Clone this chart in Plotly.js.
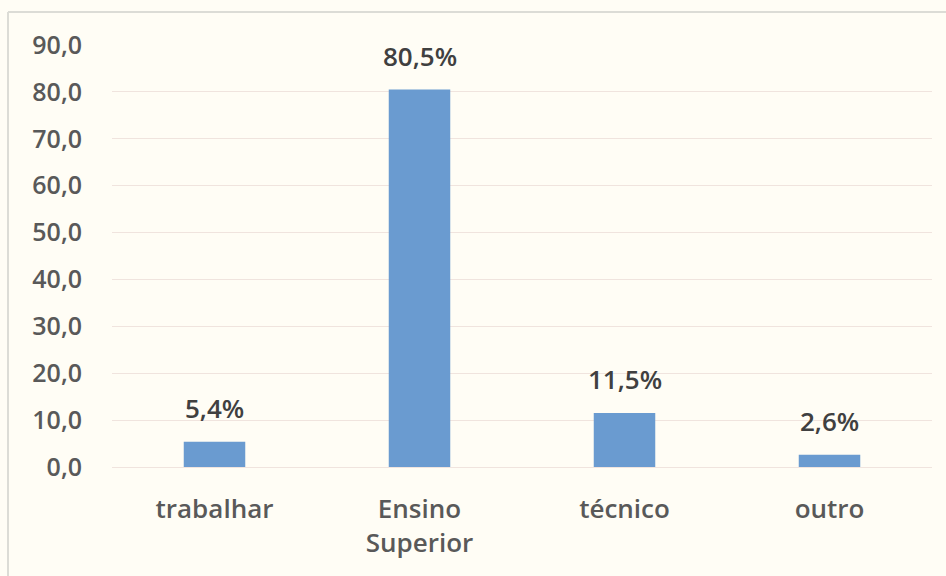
<!DOCTYPE html>
<html>
<head>
<meta charset="utf-8">
<script src="https://cdn.plot.ly/plotly-3.0.1.min.js"></script>
<style>
html,body{margin:0;padding:0;background:#fffdf5;}
#chart{width:946px;height:576px;}
</style>
</head>
<body>
<div id="chart"></div>
<script>
const categories = ["trabalhar", "Ensino<br>Superior", "técnico", "outro"];
const values = [5.4, 80.5, 11.5, 2.6];
const labels = ["5,4%", "80,5%", "11,5%", "2,6%"];
const yTicks = [0, 10, 20, 30, 40, 50, 60, 70, 80, 90];

const trace = {
  type: "bar",
  x: categories,
  y: values,
  marker: {color: "#6a9bd0"},
  hoverinfo: "none"
};

const annotations = categories.map((c, i) => ({
  x: c, y: values[i], xref: "x", yref: "y",
  text: labels[i], showarrow: false,
  yanchor: "bottom", yshift: 14,
  font: {family: "Open Sans, sans-serif", size: 26, color: "#404040", weight: 600}
}));

const layout = {
  width: 946, height: 576,
  paper_bgcolor: "#fffdf5",
  plot_bgcolor: "#fffdf5",
  margin: {l: 112, r: 14, t: 45, b: 109},
  bargap: 0.70,
  showlegend: false,
  separators: ",.",
  font: {family: "Open Sans, sans-serif", color: "#595959", size: 25},
  xaxis: {
    type: "category",
    showgrid: false, zeroline: false, showline: false,
    ticks: "", tickfont: {size: 26, color: "#595959", weight: 600},
    ticklabelstandoff: 24
  },
  yaxis: {
    range: [0, 90],
    tickvals: yTicks,
    tickformat: ".1f",
    showgrid: true, gridcolor: "#f0e4de", gridwidth: 1,
    zeroline: true, zerolinecolor: "#f0e4de", zerolinewidth: 1,
    showline: false, ticks: "",
    tickfont: {size: 25, color: "#595959", weight: 600},
    ticklabelstandoff: 29
  },
  annotations: annotations,
  shapes: [
    {type: "line", xref: "paper", yref: "paper", x0: -0.1268, x1: 1.02, y0: 1.078, y1: 1.078, line: {color: "#dcdcd6", width: 2}},
    {type: "line", xref: "paper", yref: "paper", x0: -0.1268, x1: -0.1268, y0: 1.078, y1: -0.3, line: {color: "#dcdcd6", width: 2}}
  ]
};

Plotly.newPlot("chart", [trace], layout, {displayModeBar: false, staticPlot: true});
</script>
</body>
</html>
